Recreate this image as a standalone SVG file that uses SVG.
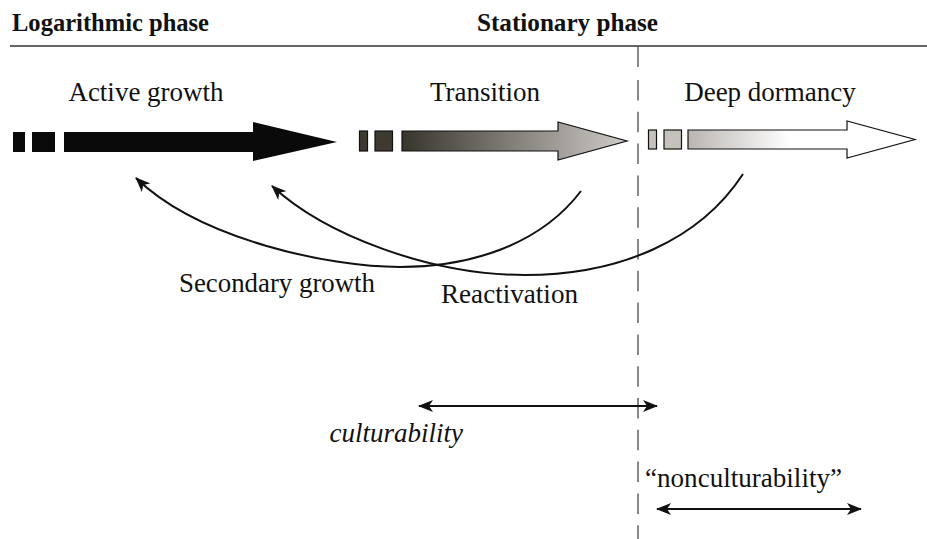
<svg xmlns="http://www.w3.org/2000/svg" width="927" height="539" viewBox="0 0 927 539">
<style>
.t{font-family:"Liberation Serif","Times New Roman",serif;font-size:27px;fill:#111}
.h{font-family:"Liberation Serif","Times New Roman",serif;font-size:25px;font-weight:bold;fill:#111}
.it{font-style:italic}
.c{fill:none;stroke:#111;stroke-width:2}
.ol{stroke:#111;stroke-width:1.2}
</style>
<defs>
<linearGradient id="g2" gradientUnits="userSpaceOnUse" x1="402" y1="0" x2="627" y2="0">
<stop offset="0" stop-color="#38352d"/>
<stop offset="1" stop-color="#cfcbc7"/>
</linearGradient>
<linearGradient id="g3" gradientUnits="userSpaceOnUse" x1="688" y1="0" x2="915" y2="0">
<stop offset="0" stop-color="#b9b5b1"/>
<stop offset="0.45" stop-color="#ffffff"/>
<stop offset="1" stop-color="#ffffff"/>
</linearGradient>
<marker id="ah" markerWidth="16" markerHeight="12" refX="14" refY="6" orient="auto" markerUnits="userSpaceOnUse">
<path d="M0,0 L15,6 L0,12 L4,6 Z" fill="#111"/>
</marker>
<marker id="ahs" markerWidth="16" markerHeight="12" refX="14" refY="6" orient="auto-start-reverse" markerUnits="userSpaceOnUse">
<path d="M0,0 L15,6 L0,12 L4,6 Z" fill="#111"/>
</marker>
</defs>

<g id="header">
<line x1="10" y1="46" x2="927" y2="46" stroke="#333" stroke-width="1.5"/>
<text class="h" x="12" y="31" textLength="197" lengthAdjust="spacingAndGlyphs">Logarithmic phase</text>
<text class="h" x="477" y="31" textLength="181" lengthAdjust="spacingAndGlyphs">Stationary phase</text>
</g>

<g id="divider">
<line x1="638" y1="46" x2="638" y2="67" stroke="#555" stroke-width="1.4"/>
<line x1="638" y1="80" x2="638" y2="539" stroke="#555" stroke-width="1.4" stroke-dasharray="20.5 11.3"/>
</g>

<g id="active-growth">
<text class="t" x="146" y="101" text-anchor="middle">Active growth</text>
<rect x="13" y="132" width="12" height="20" fill="#0a0a0a"/>
<rect x="32" y="132" width="23" height="20" fill="#0a0a0a"/>
<polygon points="64,132 253,132 253,122 337,142 253,161 253,152 64,152" fill="#0a0a0a"/>
</g>

<g id="transition">
<text class="t" x="485" y="101" text-anchor="middle">Transition</text>
<rect x="359.5" y="131" width="8" height="20" fill="#3d3a32" class="ol"/>
<rect x="375" y="131" width="17.5" height="20" fill="#3d3a32" class="ol"/>
<polygon points="402,131 558,131 558,122 627,141 558,160 558,151 402,151" fill="url(#g2)" class="ol"/>
</g>

<g id="deep-dormancy">
<text class="t" x="770" y="101" text-anchor="middle">Deep dormancy</text>
<rect x="648.5" y="130" width="8" height="19" fill="#c5c1bd" class="ol"/>
<rect x="664" y="130" width="17.5" height="19" fill="#c5c1bd" class="ol"/>
<polygon points="688,130 847,130 847,121 915,139.5 847,158 847,149 688,149" fill="url(#g3)" class="ol"/>
</g>

<g id="connectors">
<path class="c" d="M581,191 C540,245 470,267 400,267 C330,267 200,240 136,178" marker-end="url(#ah)"/>
<path class="c" d="M743,174 C700,240 620,275 525,275 C430,275 325,235 272,186" marker-end="url(#ah)"/>
<line class="c" x1="419" y1="406" x2="657" y2="406" marker-start="url(#ahs)" marker-end="url(#ahs)"/>
<line class="c" x1="657" y1="509" x2="861" y2="509" marker-start="url(#ahs)" marker-end="url(#ahs)"/>
</g>

<g id="labels">
<text class="t" x="179" y="292" textLength="196" lengthAdjust="spacingAndGlyphs">Secondary growth</text>
<text class="t" x="441" y="303" textLength="137" lengthAdjust="spacingAndGlyphs">Reactivation</text>
<text class="t it" x="463" y="442" text-anchor="end">culturability</text>
<text class="t" x="645" y="487" textLength="197" lengthAdjust="spacingAndGlyphs">“nonculturability”</text>
</g>
</svg>
